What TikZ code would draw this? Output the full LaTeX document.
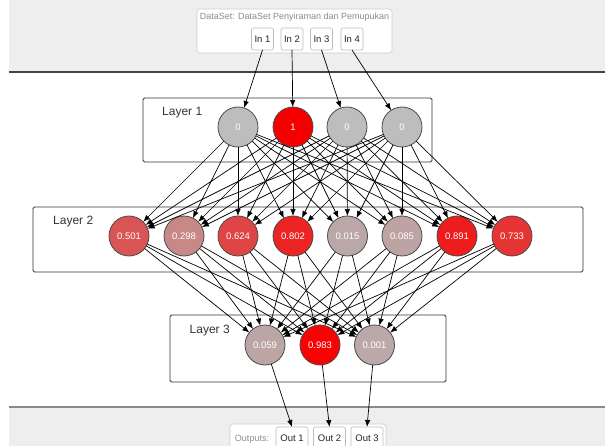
\documentclass[tikz,border=0pt]{standalone}
\usepackage{fontspec}
\setmainfont{Liberation Sans}
\usetikzlibrary{arrows.meta}

\definecolor{bandgray}{HTML}{EEEEEE}
\definecolor{bandlinetop}{HTML}{444444}
\definecolor{bandlinebot}{HTML}{8A8A8A}
\definecolor{panelline}{HTML}{CCCCCC}
\definecolor{chipline}{HTML}{BBBBBB}
\definecolor{labelgray}{HTML}{8C8C8C}
\definecolor{layerline}{HTML}{333333}
\definecolor{layertext}{HTML}{333333}
\definecolor{ringcol}{HTML}{4A4A4A}
% activation colours
\definecolor{inzero}{HTML}{BDBDBD}
\definecolor{inone}{HTML}{F50000}
\definecolor{vA}{HTML}{D95555}
\definecolor{vB}{HTML}{C98888}
\definecolor{vC}{HTML}{E04545}
\definecolor{vD}{HTML}{EC2424}
\definecolor{vE}{HTML}{BBA7A7}
\definecolor{vF}{HTML}{BEA3A3}
\definecolor{vG}{HTML}{EE1C1C}
\definecolor{vH}{HTML}{E63434}
\definecolor{vI}{HTML}{BCA5A5}
\definecolor{vJ}{HTML}{F70303}
\definecolor{vK}{HTML}{BBA8A8}

\begin{document}
\begin{tikzpicture}[x=1pt,y=-1pt,
  neuron/.style={circle, minimum size=40pt, inner sep=0pt, outer sep=0pt,
    draw=ringcol, line width=0.8pt, text=white,
    font=\fontsize{9.5}{11}\selectfont},
  chip/.style={rectangle, rounded corners=2pt, draw=chipline, fill=white,
    line width=0.6pt, minimum height=22pt, inner sep=0pt, outer sep=0pt,
    text=black!85, font=\fontsize{9.5}{11}\selectfont},
  layerbox/.style={draw=layerline, line width=0.9pt, rounded corners=1.5pt},
  layerlabel/.style={anchor=west, inner sep=0pt, text=layertext,
    font=\fontsize{12}{14}\selectfont},
  link/.style={draw=black, line width=0.7pt, -{Latex[length=7pt,width=5.5pt]}},
  panel/.style={draw=panelline, fill=white, line width=0.6pt, rounded corners=3pt}
]
\useasboundingbox (0,0) rectangle (605,446);

% top and bottom bands
\fill[bandgray] (9,0) rectangle (605,72);
\draw[bandlinetop, line width=1.4pt] (9,72) -- (605,72);
\fill[bandgray] (9,407) rectangle (605,446);
\draw[bandlinebot, line width=1.4pt] (9,407) -- (605,407);

% dataset panel with inputs
\draw[panel] (197,9) rectangle (392,53);
\node[text=labelgray, font=\fontsize{9}{11}\selectfont, inner sep=0pt]
  (dstitle) at (294.5,17.5) {DataSet: DataSet Penyiraman dan Pemupukan};
\node[chip, minimum width=22pt] (in1) at (262.5,39) {In 1};
\node[chip, minimum width=22pt] (in2) at (292,39) {In 2};
\node[chip, minimum width=22pt] (in3) at (321.5,39) {In 3};
\node[chip, minimum width=22pt] (in4) at (352,39) {In 4};

% outputs panel
\draw[panel] (230,424) rectangle (386,452);
\node[text=labelgray, font=\fontsize{9}{11}\selectfont, inner sep=0pt]
  (outtitle) at (252,439) {Outputs:};
\node[chip, minimum width=32pt] (out1) at (292,438) {Out 1};
\node[chip, minimum width=32pt] (out2) at (329.5,438) {Out 2};
\node[chip, minimum width=32pt] (out3) at (367,438) {Out 3};

% layer frames
\draw[layerbox] (143,98) rectangle (432,162);
\node[layerlabel] (lab1) at (162,112.5) {Layer 1};
\draw[layerbox] (33,207) rectangle (583,272);
\node[layerlabel] (lab2) at (53,221.5) {Layer 2};
\draw[layerbox] (170,315) rectangle (446,382);
\node[layerlabel] (lab3) at (189.5,330.5) {Layer 3};

% layer 1
\node[neuron, fill=inzero] (a1) at (238,127) {0};
\node[neuron, fill=inone]  (a2) at (293,127) {1};
\node[neuron, fill=inzero] (a3) at (347,127) {0};
\node[neuron, fill=inzero] (a4) at (402,127) {0};

% layer 2
\node[neuron, fill=vA] (b1) at (129,236) {0.501};
\node[neuron, fill=vB] (b2) at (184,236) {0.298};
\node[neuron, fill=vC] (b3) at (238,236) {0.624};
\node[neuron, fill=vD] (b4) at (293,236) {0.802};
\node[neuron, fill=vE] (b5) at (347.5,236) {0.015};
\node[neuron, fill=vF] (b6) at (402,236) {0.085};
\node[neuron, fill=vG] (b7) at (457,236) {0.891};
\node[neuron, fill=vH] (b8) at (512,236) {0.733};

% layer 3
\node[neuron, fill=vI] (c1) at (265,345) {0.059};
\node[neuron, fill=vJ] (c2) at (320,345) {0.983};
\node[neuron, fill=vK] (c3) at (374.5,345) {0.001};

% connections
\foreach \i in {1,...,4} {
  \draw[link] (in\i.south) -- (a\i);
}
\foreach \i in {1,...,4} {
  \foreach \j in {1,...,8} {
    \draw[link] (a\i) -- (b\j);
  }
}
\foreach \j in {1,...,8} {
  \foreach \k in {1,2,3} {
    \draw[link] (b\j) -- (c\k);
  }
}
\foreach \k in {1,2,3} {
  \draw[link] (c\k) -- (out\k.north);
}
\end{tikzpicture}
\end{document}
